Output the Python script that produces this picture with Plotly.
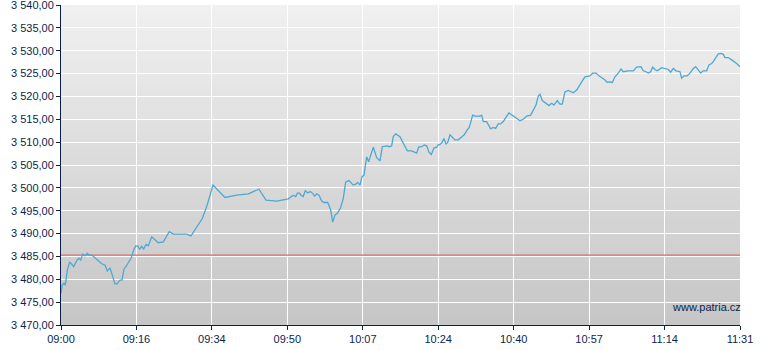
import plotly.graph_objects as go

# minutes after 09:00 and index values
minutes = [0, 0.29, 0.67, 0.96, 1.40, 1.93, 2.82, 3.56, 4.00, 4.38, 4.83, 5.34, 5.85, 6.29, 6.83,
           7.56, 8.29, 9.05, 9.78, 10.30, 10.90, 11.41, 12.01, 12.45, 13.12, 13.56, 14.01, 14.45,
           15.12, 15.63, 16.17, 16.61, 17.06, 17.50, 17.95, 18.39, 18.90, 19.41, 20.17, 20.90,
           21.64, 22.75, 24.08, 24.97, 26.84, 27.95, 28.91, 30.18, 31.42, 32.40, 33.36, 33.80,
           36.47, 39.07, 41.65, 44.03, 45.59, 47.97, 50.55, 51.66, 52.19, 52.55, 52.99, 53.37,
           53.88, 54.33, 54.86, 55.44, 55.97, 56.42, 56.86, 57.37, 57.97, 58.48, 59.31, 59.97,
           60.42, 60.93, 61.44, 62.20, 62.78, 63.31, 64.04, 65.00, 65.53, 65.98, 66.49, 66.93,
           67.38, 67.98, 68.42, 69.45, 70.20, 70.94, 71.45, 72.43, 73.00, 73.54, 73.89, 74.43,
           75.38, 76.12, 77.01, 77.99, 78.56, 79.10, 79.54, 80.21, 80.79, 81.32, 81.83, 82.34,
           82.94, 83.54, 83.90, 84.28, 84.72, 85.17, 85.61, 85.99, 86.50, 87.01, 87.61, 88.35,
           89.10, 89.68, 90.22, 90.79, 91.55, 92.06, 93.17, 93.55, 93.91, 94.66, 95.55, 96.13,
           96.66, 97.24, 97.78, 98.35, 98.95, 99.62, 100.36, 101.33, 102.07, 102.80, 103.56,
           104.45, 105.03, 105.63, 106.14, 106.52, 107.03, 107.78, 108.52, 109.12, 109.63,
           110.36, 110.96, 111.47, 112.07, 112.81, 113.34, 113.92, 114.68, 115.19, 115.79,
           116.52, 117.26, 117.63, 118.23, 118.97, 119.64, 120.37, 120.97, 121.48, 122.08,
           122.59, 123.19, 123.93, 124.53, 125.04, 126.15, 127.26, 128.02, 128.97, 129.49,
           130.09, 130.60, 131.13, 131.58, 132.09, 132.60, 133.58, 134.31, 135.05, 135.58,
           136.16, 136.76, 137.65, 138.02, 138.54, 139.27, 139.87, 140.61, 141.14, 141.72,
           142.25, 142.83, 143.59, 144.10, 144.70, 145.06, 145.66, 146.17, 146.77, 147.28,
           147.65, 148.39, 149.14, 149.65, 150.25, 151.00]

values = [3476.9, 3478.9, 3479.1, 3478.7, 3482.0, 3483.8, 3482.8, 3484.2, 3484.6, 3484.2, 3485.5,
          3485.1, 3485.7, 3485.2, 3485.3, 3484.7, 3484.1, 3483.4, 3483.1, 3481.8, 3482.5, 3480.9,
          3479.0, 3479.0, 3479.8, 3479.8, 3482.2, 3482.8, 3484.0, 3484.7, 3486.4, 3487.3, 3487.3,
          3486.6, 3487.2, 3486.6, 3487.6, 3487.3, 3489.3, 3488.7, 3488.0, 3488.2, 3490.4, 3489.9,
          3490.0, 3489.9, 3489.5, 3491.5, 3493.3, 3495.9, 3499.0, 3500.6,
          3497.9, 3498.4, 3498.7, 3499.7, 3497.3, 3497.1, 3497.6, 3498.4, 3498.1, 3498.8, 3498.9,
          3498.4, 3498.1, 3499.4, 3498.9, 3499.2, 3498.8, 3498.2, 3498.7, 3498.4, 3497.1, 3496.8,
          3496.8, 3495.2, 3492.5, 3494.1, 3494.4, 3495.7, 3497.7, 3501.3, 3501.6, 3500.6, 3500.8,
          3501.2, 3500.6, 3502.4, 3502.8, 3506.8, 3505.7, 3508.9, 3506.6, 3505.9, 3509.0, 3509.2,
          3509.0, 3509.2, 3511.2, 3511.8, 3511.2, 3509.7, 3508.1, 3508.1, 3507.9, 3507.6, 3508.9,
          3509.0, 3509.4, 3509.2, 3507.8, 3507.3, 3508.7, 3508.9, 3509.4, 3509.5, 3509.9, 3510.8,
          3509.6, 3509.9, 3511.6, 3511.0, 3510.5, 3510.5, 3511.1, 3511.6, 3512.5, 3513.2, 3515.9,
          3515.7, 3515.7, 3515.9, 3514.5, 3514.5, 3512.9, 3513.2, 3513.0, 3514.0, 3514.0, 3514.5,
          3515.4, 3516.4, 3515.9, 3515.2, 3514.7, 3515.0, 3515.7, 3515.9, 3517.0, 3518.1, 3520.1,
          3520.5, 3519.1, 3518.6, 3518.0, 3518.5, 3518.1, 3519.1, 3518.3, 3518.3, 3521.0, 3521.3,
          3521.0, 3520.8, 3521.4, 3522.1, 3523.2, 3524.3, 3524.5, 3524.5, 3525.1, 3525.1, 3524.5,
          3524.1, 3523.6, 3523.1, 3523.2, 3523.0, 3524.3, 3525.1, 3526.0, 3525.4, 3525.6, 3525.6,
          3526.4, 3526.5, 3525.6, 3525.4, 3525.1, 3525.4, 3526.4, 3525.9, 3525.6, 3526.3, 3526.1,
          3525.9, 3525.3, 3526.1, 3525.6, 3525.4, 3524.0, 3524.5, 3524.5, 3525.1, 3526.1, 3526.5,
          3525.8, 3525.1, 3525.6, 3525.6, 3526.9, 3527.2, 3527.6, 3528.5, 3529.3, 3529.4, 3529.2,
          3528.5, 3528.5, 3528.0, 3527.7, 3527.2, 3526.5]

previous_close = 3485.3

session_length = 151  # 09:00 -> 11:31
x_tick_labels = ["09:00", "09:16", "09:34", "09:50", "10:07", "10:24", "10:40", "10:57", "11:14", "11:31"]
y_tick_values = [3470, 3475, 3480, 3485, 3490, 3495, 3500, 3505, 3510, 3515, 3520, 3525, 3530, 3535, 3540]
y_tick_labels = ["3 470,00", "3 475,00", "3 480,00", "3 485,00", "3 490,00", "3 495,00", "3 500,00",
                 "3 505,00", "3 510,00", "3 515,00", "3 520,00", "3 525,00", "3 530,00", "3 535,00",
                 "3 540,00"]

navy = "#0b1f4d"
fig = go.Figure()
fig.add_trace(go.Scatter(x=[0, session_length], y=[previous_close, previous_close], mode="lines",
                         line=dict(color="#e06a6a", width=1.2), hoverinfo="skip"))
fig.add_trace(go.Scatter(x=minutes, y=values, mode="lines",
                         line=dict(color="#4ea8d3", width=1.3), hoverinfo="skip"))

# vertical gradient background made of thin bands
n = 48
top, bottom = (240, 240, 240), (198, 198, 198)
shapes = []
for i in range(n):
    f = i / (n - 1)
    c = tuple(round(bottom[k] + (top[k] - bottom[k]) * f) for k in range(3))
    shapes.append(dict(type="rect", xref="paper", yref="paper", x0=0, x1=1,
                       y0=i / n, y1=min(1, (i + 1) / n + 0.002), fillcolor="rgb(%d,%d,%d)" % c,
                       line=dict(width=0), layer="below"))

nt = len(x_tick_labels)
fig.update_layout(
    width=780, height=350, margin=dict(l=61, r=40, t=5, b=25, autoexpand=False),
    paper_bgcolor="white", plot_bgcolor="#dcdcdc", showlegend=False,
    shapes=shapes,
    font=dict(family="Liberation Sans, Arial, sans-serif", size=11, color=navy),
    xaxis=dict(range=[0, session_length],
               tickvals=[i * session_length / (nt - 1) for i in range(nt)],
               ticktext=x_tick_labels, showgrid=True, gridcolor="white", gridwidth=1,
               zeroline=False, showline=True, linecolor=navy, linewidth=1,
               ticks="outside", ticklen=4, tickcolor=navy, fixedrange=True,
               ticklabeloverflow="allow", automargin=False),
    yaxis=dict(range=[3470, 3540], tickvals=y_tick_values, ticktext=y_tick_labels,
               showgrid=True, gridcolor="white", gridwidth=1, zeroline=False,
               showline=True, linecolor=navy, linewidth=1, ticks="outside", ticklen=4,
               tickcolor=navy, fixedrange=True, ticklabeloverflow="allow", automargin=False),
    annotations=[dict(text="www.patria.cz", xref="paper", yref="paper", x=1.005, y=0.055,
                      xanchor="right", yanchor="middle", showarrow=False,
                      font=dict(size=11, color=navy))],
)
fig.write_html("out.html")
